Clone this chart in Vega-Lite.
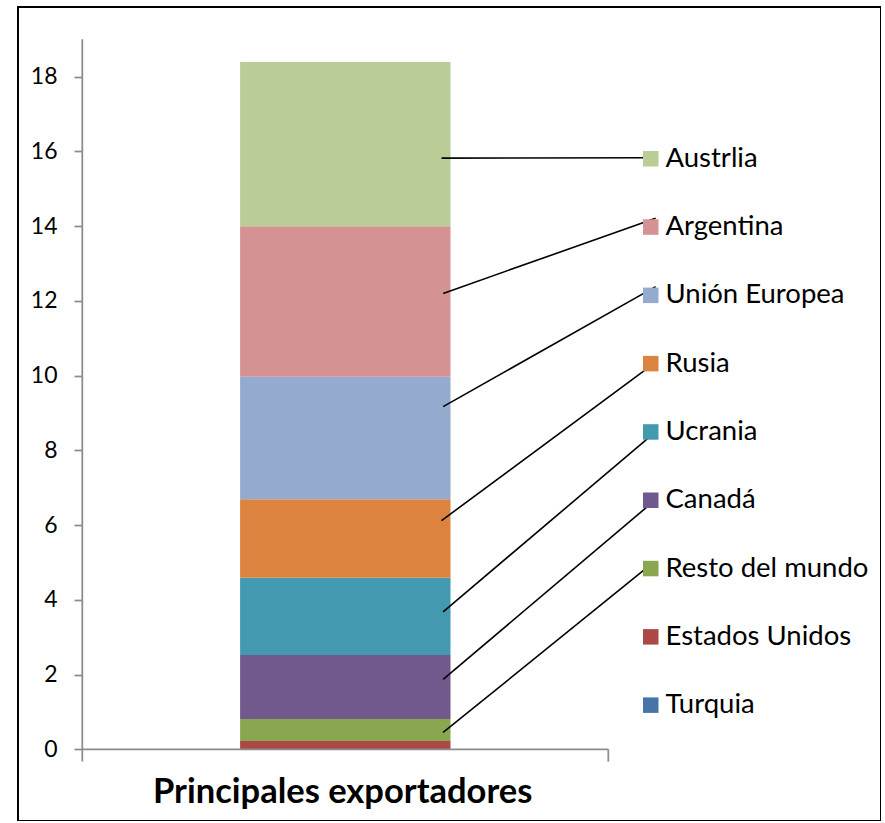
{
  "$schema": "https://vega.github.io/schema/vega-lite/v6.json",
  "autosize": {"type": "none"},
  "padding": {"left": 18, "top": 7, "right": 0, "bottom": 0},
  "width": 863,
  "height": 814,
  "background": "white",
  "config": {
    "view": {"stroke": "#000000", "strokeWidth": 2},
    "font": "Lato",
    "legend": {
      "orient": "none",
      "legendX": 619,
      "legendY": 138,
      "padding": 0,
      "symbolType": "square",
      "symbolSize": 240,
      "symbolStrokeWidth": 0,
      "symbolOpacity": 1,
      "labelFont": "Lato",
      "labelFontSize": 27.5,
      "labelColor": "#000000",
      "labelOffset": 1,
      "rowPadding": 39.3,
      "labelLimit": 400
    }
  },
  "datasets": {
    "exportadores": [
      {"pais": "Turquia", "valor": 0, "orden": 1},
      {"pais": "Estados Unidos", "valor": 0.22, "orden": 2},
      {"pais": "Resto del mundo", "valor": 0.59, "orden": 3},
      {"pais": "Canadá", "valor": 1.71, "orden": 4},
      {"pais": "Ucrania", "valor": 2.07, "orden": 5},
      {"pais": "Rusia", "valor": 2.10, "orden": 6},
      {"pais": "Unión Europea", "valor": 3.28, "orden": 7},
      {"pais": "Argentina", "valor": 4.03, "orden": 8},
      {"pais": "Austrlia", "valor": 4.39, "orden": 9}
    ],
    "guias": [
      {"pais": "Austrlia", "x1": 0.683, "y1": 15.82, "x2": 1.087, "y2": 15.83},
      {"pais": "Argentina", "x1": 0.686, "y1": 12.20, "x2": 1.090, "y2": 14.21},
      {"pais": "Unión Europea", "x1": 0.686, "y1": 9.17, "x2": 1.090, "y2": 12.38},
      {"pais": "Rusia", "x1": 0.683, "y1": 6.12, "x2": 1.089, "y2": 10.35},
      {"pais": "Ucrania", "x1": 0.686, "y1": 3.68, "x2": 1.087, "y2": 8.46},
      {"pais": "Canadá", "x1": 0.686, "y1": 1.87, "x2": 1.084, "y2": 6.61},
      {"pais": "Resto del mundo", "x1": 0.686, "y1": 0.45, "x2": 1.084, "y2": 4.98}
    ],
    "titulo": [{"texto": "Principales exportadores"}]
  },
  "layer": [
    {
      "data": {"name": "exportadores"},
      "transform": [
        {"stack": "valor", "groupby": [], "sort": [{"field": "orden", "order": "ascending"}], "as": ["v0", "v1"]}
      ],
      "mark": {"type": "bar"},
      "encoding": {
        "x": {"datum": 0.3, "type": "quantitative", "scale": {"domain": [-0.12224, 1.51844], "nice": false, "zero": false}, "axis": null},
        "x2": {"datum": 0.7},
        "y": {
          "field": "v0",
          "type": "quantitative",
          "scale": {"domain": [-1.919, 19.864], "nice": false, "zero": false},
          "axis": {
            "orient": "left",
            "offset": -64,
            "values": [0, 2, 4, 6, 8, 10, 12, 14, 16, 18],
            "domain": false,
            "grid": false,
            "ticks": true,
            "tickColor": "#8C8C8C",
            "tickWidth": 1.75,
            "tickSize": 8,
            "labelFont": "Lato",
            "labelFontSize": 23,
            "labelColor": "#000000",
            "labelPadding": 17,
            "title": null
          }
        },
        "y2": {"field": "v1"},
        "color": {
          "field": "pais",
          "type": "nominal",
          "title": null,
          "scale": {
            "domain": ["Austrlia", "Argentina", "Unión Europea", "Rusia", "Ucrania", "Canadá", "Resto del mundo", "Estados Unidos", "Turquia"],
            "range": ["#BACD97", "#D49392", "#95AACF", "#DC843F", "#4299B0", "#71598E", "#8AA64F", "#AC4947", "#4674A9"]
          }
        }
      }
    },
    {
      "data": {"values": [{}]},
      "mark": {"type": "rule", "color": "#8C8C8C", "strokeWidth": 1.75},
      "encoding": {
        "x": {"datum": 0, "type": "quantitative", "axis": null},
        "y": {"datum": -0.33, "type": "quantitative", "title": null},
        "y2": {"datum": 19}
      }
    },
    {
      "data": {"values": [{}]},
      "mark": {"type": "rule", "color": "#8C8C8C", "strokeWidth": 1.75},
      "encoding": {
        "x": {"datum": 0, "type": "quantitative", "axis": null},
        "x2": {"datum": 1},
        "y": {"datum": 0, "type": "quantitative", "title": null}
      }
    },
    {
      "data": {"values": [{}]},
      "mark": {"type": "rule", "color": "#8C8C8C", "strokeWidth": 1.75},
      "encoding": {
        "x": {"datum": 1, "type": "quantitative", "axis": null},
        "y": {"datum": -0.33, "type": "quantitative", "title": null},
        "y2": {"datum": 0}
      }
    },
    {
      "data": {"name": "guias"},
      "mark": {"type": "rule", "color": "#000000", "strokeWidth": 1.6},
      "encoding": {
        "x": {"field": "x1", "type": "quantitative", "axis": null},
        "x2": {"field": "x2"},
        "y": {"field": "y1", "type": "quantitative", "title": null},
        "y2": {"field": "y2"}
      }
    },
    {
      "data": {"name": "titulo"},
      "mark": {"type": "text", "font": "Lato", "fontWeight": "bold", "fontSize": 34.5, "align": "center", "baseline": "alphabetic", "color": "#000000"},
      "encoding": {
        "x": {"datum": 0.495, "type": "quantitative", "axis": null},
        "y": {"datum": -1.437, "type": "quantitative", "title": null},
        "text": {"field": "texto"}
      }
    }
  ]
}
